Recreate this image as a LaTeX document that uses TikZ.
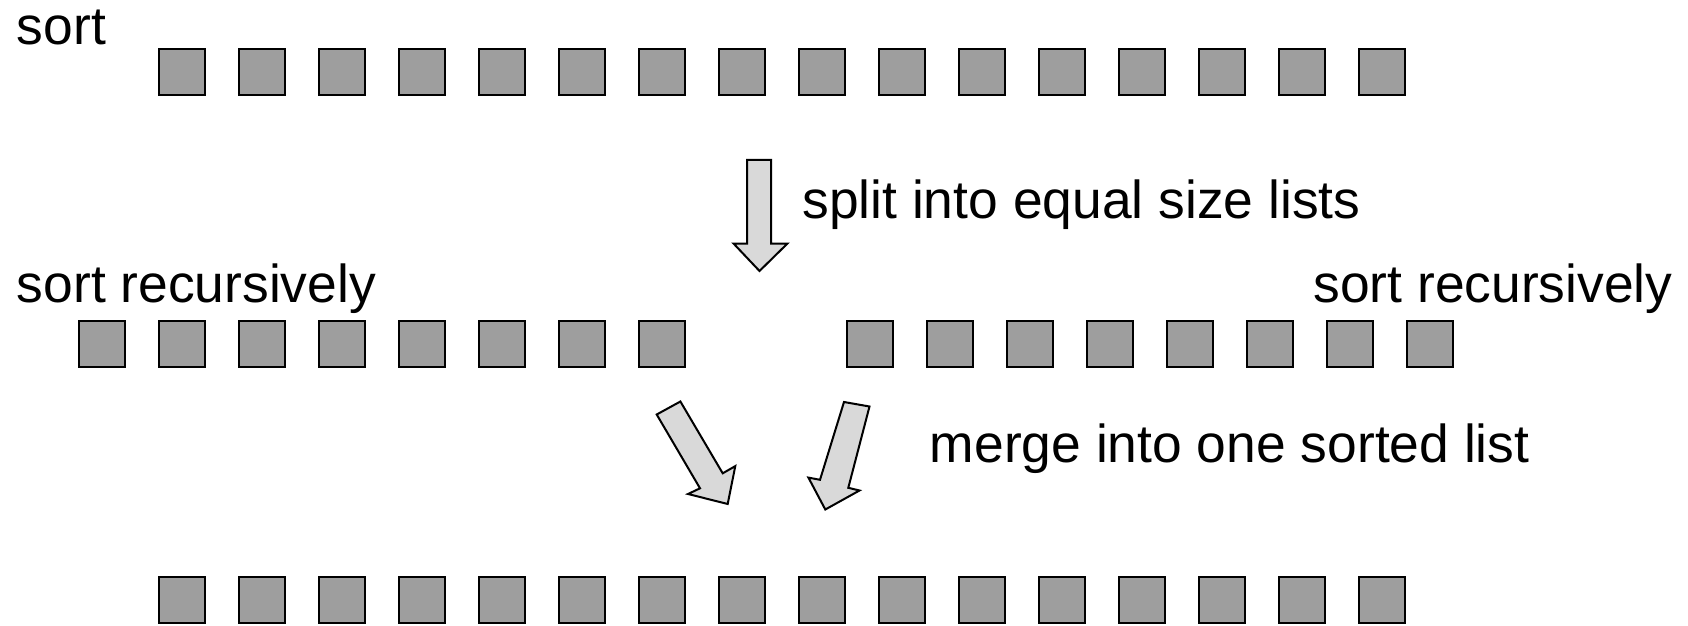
\documentclass[tikz,border=0pt]{standalone}
\usepackage{fontspec}
\setmainfont{Liberation Sans}
\definecolor{sqgray}{HTML}{9E9E9E}
\definecolor{arrgray}{HTML}{D9D9D9}
\begin{document}
\begin{tikzpicture}[x=0.5pt,y=-0.5pt,
  sq/.style={draw=black,fill=sqgray,line width=1pt,minimum size=23pt,inner sep=0pt,outer sep=0pt},
  lbl/.style={anchor=base west,inner sep=0pt,font=\fontsize{26.7pt}{30pt}\selectfont},
  blockarrow/.style={draw=black,fill=arrgray,line width=1pt,line join=miter}]
\useasboundingbox (0,0) rectangle (1688,626);
% top row
\foreach \i in {0,...,15} {
  \node[sq] (t\i) at ({182+80*\i},72) {};
}
% middle rows
\foreach \i in {0,...,7} {
  \node[sq] (l\i) at ({102+80*\i},344) {};
  \node[sq] (r\i) at ({870+80*\i},344) {};
}
% bottom row
\foreach \i in {0,...,15} {
  \node[sq] (b\i) at ({182+80*\i},600) {};
}
% labels
\node[lbl] (sortlbl) at (16.5,45) {sort};
\node[lbl] (splitlbl) at (802,219) {split into equal size lists};
\node[lbl] (recl) at (16.5,302) {sort recursively};
\node[lbl] (recr) at (1313,302) {sort recursively};
\node[lbl] (mergelbl) at (929.5,462) {merge into one sorted list};
% down arrow
\draw[blockarrow] (747,160) -- (771,160) -- (771,243.5) -- (787.5,243.5) -- (759.5,271) -- (733.5,243.5) -- (747,243.5) -- cycle;
% left diagonal arrow
\draw[blockarrow] (656.7,414.5) -- (680.4,401.5) -- (722.7,473.3) -- (735.3,466.1) -- (727.7,504) -- (688,494) -- (700,488.3) -- cycle;
% right diagonal arrow
\draw[blockarrow] (844,402) -- (869.5,406.5) -- (848.3,487.8) -- (859.5,490.5) -- (825.3,509.5) -- (808.4,477.6) -- (820,479.8) -- cycle;
\end{tikzpicture}
\end{document}
